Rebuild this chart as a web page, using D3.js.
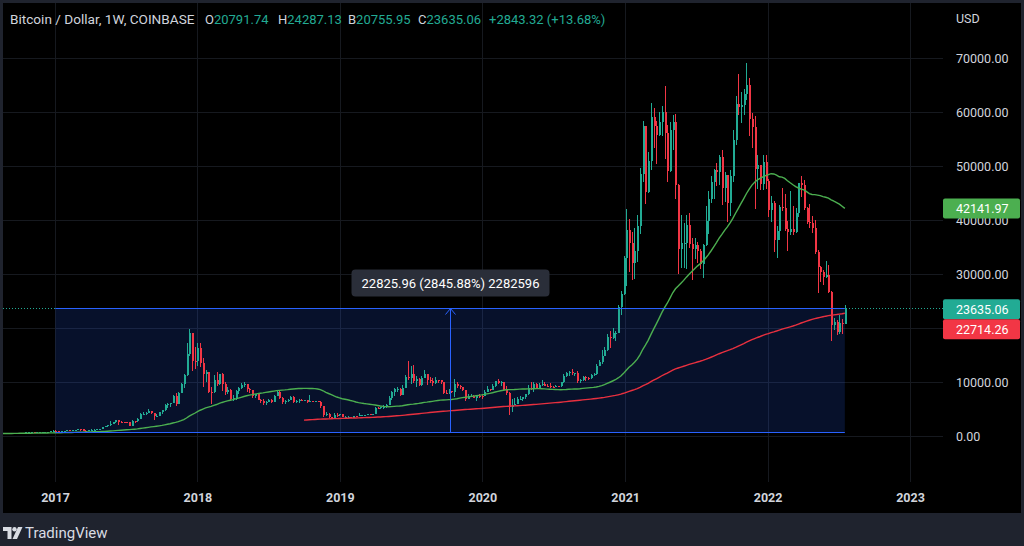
<!DOCTYPE html>
<html><head><meta charset="utf-8">
<script src="https://cdn.jsdelivr.net/npm/d3@7"></script>
<style>
html,body{margin:0;padding:0;background:#1f232e;}
svg{display:block;}
text{font-family:Roboto,"Noto Sans",sans-serif;}
</style></head>
<body><svg id="chart" width="1024" height="546"></svg>
<script>
// ---------- DATA (weekly bars, COINBASE BTCUSD, bar = week starting Monday) ----------
const lastBarDate = "2022-07-18";
// weekly closes, first bar week of 2014-12-08
const close2014 = [350,330,318,265];
const close2015 = [270,210,255,225, 222,235,238,260, 275,285,265,245,255, 236,223,219,240, 241,236,240,230,
  226,233,244,250,271, 310,275,292,281, 264,257,228,229,240, 230,231,232,238, 247,262,285,325,
  373,320,323,360,395, 435,442,422,430];
const close2016 = [448,382,402,378, 375,404,438,432,404, 412,412,416,420, 421,428,460,445, 458,455,445,528,580,
  685,765,660,703, 650,676,657,655, 590,570,582,572,610, 608,608,600,612, 617,640,655,700,710,
  705,730,730,765, 775,790,890,1010];
const close2017 = [900,830,920,920,1020, 1000,1050,1180,1265, 1230,970,960,1085, 1195,1195,1250,1350,
  1720,1760,2050,2200,2520, 2960,2620,2550,2520, 2510,1930,2750,2730,3230, 4050,4080,4350,4600,
  4200,3680,3780,4370, 4760,5680,5980,6150,7400, 5900,8000,9720,11250, 15100,19100,13900,13850];
const close2018 = [16300,13600,11500,11800,8200, 8100,10400,9600,11500, 9550,8200,8450,6850,
  7050,8350,8900,9400,9650, 8700,8500,7350,7700, 6750,6450,6150,6350, 6750,6350,7400,8200,7040,
  6300,6400,6700,7300, 6250,6500,6700,6600, 6600,6300,6500,6400,6450, 6350,5550,3950,4150,
  3600,3200,3950,3850,4050];
const close2019 = [3550,3550,3550,3420, 3650,3620,3800,3820, 3920,4000,3990,4100, 5180,5150,5300,5300,5770,
  7000,8200,8750,8750, 7650,8980,10850,10800, 11450,10250,10550,9500,10800, 11400,10300,10150,9750,
  10400,10300,10000,8050,7900, 8300,8200,9550,9200, 9050,8500,6900,7400, 7500,7100,7500,7400,7350];
const close2020 = [8150,8700,8600,9350, 10150,9900,9950,8550, 8050,5380,5820,5880,6780, 6900,7130,7700,8900,
  8730,9670,8720,9450, 9670,9340,9300,9120,9070, 9280,9170,9930,11100, 11680,11900,11650,11700,10250,
  10330,10920,10770,10670, 11380,11500,13030,13760, 14830,15960,18400,18180,19150, 19150,23850,26280,33000];
const close2021 = [38200,35800,32100,34300, 38900,48600,57500,45200, 51000,59000,57500,55800,58200,
  60000,56200,49100,56600, 58200,46500,34700,35700,35800, 39000,35500,34700,35300, 34250,31800,35400,39900,
  43800,47100,49300,48800,51700, 46000,48300,43200,48200, 54900,61500,60900,61300,
  63300,65000,58700,57300,49400, 50100,46700,50800,47300];
const close2022 = [41800,43100,36300,37900,42400, 42200,38400,37700,38400, 37800,41300,46800,46400,
  42200,39700,39400,38500, 34000,31300,30300,29450,29900, 26600,20550,21030,19300, 20850,20791.74,23635.06];

// weekly highs / lows from the week of 2016-08-01
const high2016 = [660,600,590,590,615, 630,612,610,615, 620,642,660,720,740, 750,755,750,770, 785,795,940,1020];
const low2016  = [510,565,565,565,565, 600,600,590,595, 606,612,625,650,680, 690,695,725,725, 755,770,790,885];
const high2017 = [1150,910,935,930,1040, 1060,1060,1200,1290, 1320,1260,1080,1095, 1210,1220,1255,1360,
  1740,1850,2100,2800,2580, 3000,2980,2780,2650, 2650,2550,2980,2800,3290, 4190,4480,4400,4980,
  4700,4300,4120,4380, 4800,5860,6190,6200,7600, 7900,8100,9800,11400, 17170,19890,19050,16500];
const low2017  = [780,750,820,880,915, 940,990,1050,1150, 1000,930,890,950, 1070,1155,1180,1240,
  1340,1580,1710,1850,2130, 2500,2100,2450,2330, 2450,1840,1910,2480,2650, 3190,3900,3980,4300,
  4080,2970,3500,3750, 4150,4720,5100,5400,6110, 5500,5860,7900,8900, 11100,14900,12050,12500];
const high2018 = [17250,17200,14400,12200,11900, 9000,11300,11800,11550, 11700,9950,9150,8620,
  7550,8450,9050,9750,9990, 9700,8880,8550,7780, 7780,6870,6820,6530, 6800,6780,7550,8500,8290,
  7150,6620,6860,7400, 7430,6600,6830,6800, 6670,6680,7530,6570,6480, 6550,6420,5550,4420,
  4290,3610,4240,4200,4100];
const low2018  = [12900,12850,9000,10050,7900, 5900,8000,9350,9400, 8400,7670,7800,6540,
  6500,6630,7850,8670,9050, 8160,7950,7050,7090, 6650,6130,5800,5780, 6270,6100,6320,7360,6910,
  5880,5880,6230,6690, 6150,6180,6200,6440, 6440,6120,6300,6380,6240, 6310,5230,3570,3690,
  3260,3120,3180,3550,3650];
const high2019 = [4140,3730,3680,3560, 3720,3700,4200,3900, 3950,4020,4060,4140, 5300,5460,5350,5650,5880,
  7420,8380,8800,9090, 8800,9400,11280,13880, 12900,13200,11100,10680,11050, 12300,11450,10950,10650,
  10900,10450,10350,10050,8500, 8650,8400,10550,9950, 9500,9080,8500,7860, 7750,7600,7520,7700,7600];
const low2019  = [3500,3480,3500,3380, 3370,3560,3620,3700, 3690,3830,3940,3920, 4080,4920,5030,5040,5150,
  5650,6600,7480,8100, 7450,7550,8950,10300, 9620,9860,9100,9170,9350, 10780,9460,9900,9350,
  9600,9890,9580,7760,7720, 7800,7890,7300,8980, 8730,8300,6520,6850, 7200,7000,6430,7080,6870];
const high2020 = [8470,9200,8780,9560, 10200,10500,10200,9990, 9200,8170,6900,6950,7300, 7480,7300,7750,9470,
  10070,9940,9850,9730, 10380,9980,9580,9790,9300, 9470,9320,10000,11450, 11900,12100,12480,11750,12080,
  10600,11180,11100,10950, 11500,11720,13350,14100, 15970,16480,18800,19400,19920, 19420,24300,26800,33300];
const low2020  = [7330,8100,8250,8550, 9150,9700,9300,8460, 7640,3860,4450,5700,5860, 6750,6470,6760,7650,
  8600,8100,8650,8680, 9300,9300,9200,8830,8880, 9050,9000,9120,9900, 10950,11200,11280,11100,9900,
  9880,10200,10150,10380, 10520,11200,11360,12880, 13250,14800,15800,16300,18000, 17620,19000,22350,26050];
const high2021 = [41950,40100,37850,38550, 40950,49700,58300,57500, 52600,61700,60700,58400,60000,
  61200,64900,57600,58200, 59500,59600,46700,40900,39500, 40900,41300,36700,36600, 35950,34600,35600,42600,
  45300,48150,49400,50500,52000, 52950,48850,48400,49200, 56600,62900,67000,63700,
  64300,69000,66300,59800,59300, 51950,50200,52100,52100];
const low2021  = [27700,30300,28850,29150, 32300,37400,47000,43000, 44950,49300,53250,50400,55500,
  55500,51300,47000,48800, 53000,43800,30000,31100,31100, 31000,34800,28800,32700, 32100,31000,29250,35200,
  37500,43100,43950,46300,46550, 42800,43400,39600,40750, 47100,53850,59500,58000,
  59500,62300,55600,53300,42000, 45700,45500,45500,45700];
const high2022 = [47600,44500,43500,38950,42700, 45850,44800,39900,45400, 42600,42300,46900,48200,
  47400,42400,42950,40800, 40000,34400,31400,30650,32400, 31700,26900,21900,21500, 22400,21600,24287.13];
const low2022  = [40500,39600,34000,32900,36250, 41700,38000,34300,37150, 37200,37600,40500,44250,
  41850,39250,38550,37600, 33700,26500,28600,28000,29300, 26550,17600,19650,18650, 18950,18900,20755.95];

const yearTicks = [2017,2018,2019,2020,2021,2022,2023];
const priceTicks = [0,10000,20000,30000,40000,50000,60000,70000];

const headerTitle = "Bitcoin / Dollar, 1W, COINBASE";
const headerFields = [["O","20791.74"],["H","24287.13"],["B","20755.95"],["C","23635.06"]];
const headerChange = "+2843.32 (+13.68%)";
const lastPrice = 23635.06;
const ma50Label = 42141.97;
const ma200Label = 22714.26;
const rangeStart = "2017-01-02", rangeEnd = "2022-07-18";
const rangeTop = 23628.03, rangeBottom = 802.07;
const rangeLabel = "22825.96 (2845.88%) 2282596";

// ---------- BUILD ----------
const closes = [].concat(close2014,close2015,close2016,close2017,close2018,close2019,close2020,close2021,close2022);
const highs = [].concat(high2016,high2017,high2018,high2019,high2020,high2021,high2022);
const lows  = [].concat(low2016,low2017,low2018,low2019,low2020,low2021,low2022);
const WEEK = 7*864e5;
const lastT = Date.parse(lastBarDate+"T00:00:00Z");
const bars = closes.map((c,i)=>({date:new Date(lastT-(closes.length-1-i)*WEEK), close:c, open:i>0?closes[i-1]:c}));
const off = closes.length - highs.length;
bars.forEach((b,i)=>{const j=i-off; if(j>=0){b.high=highs[j]; b.low=lows[j];}});
function sma(n){return bars.map((b,i)=>({date:b.date, v: i<n-1?null:d3.mean(closes.slice(i-n+1,i+1))}));}
const ma50 = sma(50), ma200 = sma(200);

const svg = d3.select("#chart");
const W=1024,H=546;
const PL=3, PR=943, PT=3, PB=482;
const UP="#22ab94", DN="#f23645", GRID="#16191f", TXT="#d1d4dc";

svg.append("rect").attr("width",W).attr("height",H).attr("fill","#1f232e");
svg.append("rect").attr("x",3).attr("y",3).attr("width",1018).attr("height",510).attr("fill","#000");

const x = d3.scaleUtc().domain([new Date(Date.UTC(2017,0,1)), new Date(Date.UTC(2023,0,1))]).range([55,910]);
const y = d3.scaleLinear().domain([0,70000]).range([436,58]);

svg.append("clipPath").attr("id","plot").append("rect").attr("x",PL).attr("y",PT).attr("width",PR-PL).attr("height",PB-PT);
const plot = svg.append("g").attr("clip-path","url(#plot)");

// grid
plot.selectAll(".vg").data(yearTicks).join("line")
  .attr("x1",d=>Math.round(x(new Date(Date.UTC(d,0,1))))+0.5).attr("x2",d=>Math.round(x(new Date(Date.UTC(d,0,1))))+0.5)
  .attr("y1",PT).attr("y2",PB).attr("stroke",GRID);
plot.selectAll(".hg").data(priceTicks).join("line")
  .attr("x1",PL).attr("x2",PR).attr("y1",d=>Math.round(y(d))+0.5).attr("y2",d=>Math.round(y(d))+0.5).attr("stroke",GRID);

// price range rectangle fill
const rx0 = x(new Date(rangeStart+"T00:00:00Z")), rx1 = x(new Date(rangeEnd+"T00:00:00Z"));
const ryT = Math.round(y(rangeTop))+0.5, ryB = Math.round(y(rangeBottom))+0.5;
plot.append("rect").attr("x",rx0).attr("y",ryT).attr("width",rx1-rx0).attr("height",ryB-ryT)
  .attr("fill","rgba(41,98,255,0.17)");

// candles
const cb = bars.filter(b=>b.high!=null);
const cg = plot.append("g").attr("shape-rendering","crispEdges");
cg.selectAll(".w").data(cb).join("rect")
  .attr("x",d=>Math.round(x(d.date))).attr("width",1)
  .attr("y",d=>y(d.high)).attr("height",d=>Math.max(1,y(d.low)-y(d.high)))
  .attr("fill",d=>d.close>=d.open?UP:DN);
cg.selectAll(".b").data(cb).join("rect")
  .attr("x",d=>Math.round(x(d.date))-0.5).attr("width",2)
  .attr("y",d=>y(Math.max(d.open,d.close)))
  .attr("height",d=>Math.max(1,Math.abs(y(d.open)-y(d.close))))
  .attr("fill",d=>d.close>=d.open?UP:DN);

// moving averages
const line = d3.line().defined(d=>d.v!=null).x(d=>x(d.date)).y(d=>y(d.v));
plot.append("path").datum(ma200).attr("d",line).attr("fill","none").attr("stroke","#e8303f").attr("stroke-width",1.4);
plot.append("path").datum(ma50).attr("d",line).attr("fill","none").attr("stroke","#4caf50").attr("stroke-width",1.4);

// last price dotted line
const lpY = Math.round(y(lastPrice))+0.5;
plot.append("line").attr("x1",PL).attr("x2",PR).attr("y1",lpY).attr("y2",lpY)
  .attr("stroke",UP).attr("stroke-dasharray","1,2");

// range borders + arrow
plot.append("line").attr("x1",rx0).attr("x2",rx1).attr("y1",ryT).attr("y2",ryT).attr("stroke","#2962ff");
plot.append("line").attr("x1",rx0).attr("x2",rx1).attr("y1",ryB).attr("y2",ryB).attr("stroke","#2962ff");
const ax = Math.round((rx0+rx1)/2)+0.5;
plot.append("line").attr("x1",ax).attr("x2",ax).attr("y1",ryB).attr("y2",ryT).attr("stroke","#2962ff");
plot.append("path").attr("d",`M${ax-5},${ryT+6}L${ax},${ryT}L${ax+5},${ryT+6}`).attr("fill","none").attr("stroke","#2962ff");
// label
const lb = plot.append("g");
lb.append("rect").attr("x",ax-99).attr("y",ryT-39).attr("width",198).attr("height",27).attr("rx",4).attr("fill","#2a2e39");
lb.append("text").attr("x",ax).attr("y",ryT-21).attr("text-anchor","middle").attr("fill","#fff")
  .attr("font-size",13).text(rangeLabel);

// price axis
const pa = svg.append("g").attr("transform",`translate(${PR},0)`)
  .call(d3.axisRight(y).tickValues(priceTicks).tickFormat(d3.format(".2f")).tickSize(0).tickPadding(13));
pa.select(".domain").remove();
pa.selectAll("text").attr("fill",TXT).attr("font-size",12.5).attr("font-family","Roboto,sans-serif");
svg.append("text").attr("x",956).attr("y",22.5).attr("fill",TXT).attr("font-size",12.5).text("USD");

function priceBox(cy,col,label){
  svg.append("rect").attr("x",PR).attr("y",cy-10).attr("width",77).attr("height",20).attr("rx",2).attr("fill",col);
  svg.append("text").attr("x",956).attr("y",cy).attr("dy","0.35em").attr("fill","#fff").attr("font-size",12.5).text(label);
}
const g50 = y(ma50Label);
priceBox(g50,"#4caf50",d3.format(".2f")(ma50Label));
const lpC = y(lastPrice)+1;
priceBox(lpC,UP,d3.format(".2f")(lastPrice));
priceBox(Math.max(y(ma200Label),lpC+20),"#f23645",d3.format(".2f")(ma200Label));

// time axis
const ta = svg.append("g").attr("transform",`translate(0,${PB})`)
  .call(d3.axisBottom(x).tickValues(yearTicks.map(d=>new Date(Date.UTC(d,0,1)))).tickFormat(d3.utcFormat("%Y")).tickSize(0).tickPadding(11.5));
ta.select(".domain").remove();
ta.selectAll("text").attr("fill",TXT).attr("font-size",12.5).attr("font-weight","bold").attr("font-family","Roboto,sans-serif");

// header legend
svg.append("text").attr("x",10).attr("y",23.5).attr("font-size",13.6).attr("fill",TXT).text(headerTitle);
const hx = [205,278,348,418];
headerFields.forEach((f,i)=>{
  const t = svg.append("text").attr("x",hx[i]).attr("y",23.5).attr("font-size",13);
  t.append("tspan").attr("fill",TXT).text(f[0]);
  t.append("tspan").attr("fill",UP).text(f[1]);
});
svg.append("text").attr("x",489).attr("y",23.5).attr("font-size",13).attr("fill",UP).text(headerChange);

// logo
const lg = svg.append("g").attr("fill","#d9dce3");
lg.append("path").attr("d","M3,527H11.5V539H7.5V531H3Z");
lg.append("circle").attr("cx",14.5).attr("cy",529.3).attr("r",2.2);
lg.append("path").attr("d","M18,527H22.5L17,539H12.5Z");
svg.append("text").attr("x",25).attr("y",538).attr("font-size",15).attr("fill","#d9dce3").text("TradingView");
</script></body></html>
